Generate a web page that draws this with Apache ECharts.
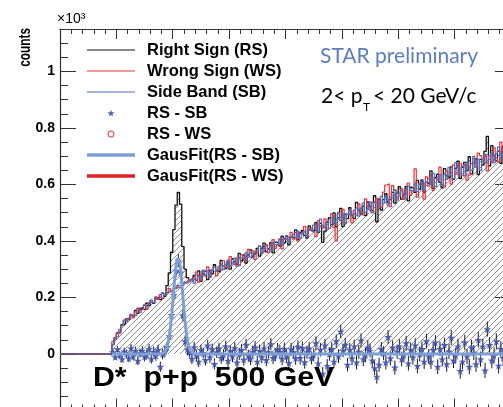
<!DOCTYPE html>
<html><head><meta charset="utf-8">
<script src="https://cdn.jsdelivr.net/npm/echarts@6/dist/echarts.min.js"></script>
<style>html,body{margin:0;padding:0;overflow:hidden;background:#fff;width:503px;height:407px}#c{width:520px;height:420px}</style>
</head><body><div id="c"></div>
<script>
// ---- axis ranges / binning ----
const xMin = 0.135, xMax = 0.175, binWidth = 0.0002;
const yMin = -0.2, yMax = 1.15;
const firstFilledBin = 0.1396;   // lower edge of first non-empty bin
// bins 0.1350 .. 0.1396 are empty
const emptyBins = [0,0,0,0,0,0,0,0,0,0,0,0,0,0,0,0,0,0,0,0,0,0,0];

// ---- histograms (x10^3 counts), bins from 0.1396 ----
const rightSign = [
0.033,0.057,0.074,0.081,0.104,0.106,0.124,0.121,0.138,0.134,
0.154,0.144,0.161,0.166,0.158,0.180,0.171,0.190,0.179,0.198,
0.201,0.192,0.215,0.204,0.242,0.287,0.360,0.440,0.527,0.572,
0.530,0.380,0.300,0.270,0.262,0.268,
0.278,0.261,0.294,0.257,0.283,0.293,0.263,0.296,0.284,0.316,
0.295,0.289,0.331,0.312,0.302,0.325,0.300,0.337,0.327,0.317,
0.356,0.330,0.351,0.322,0.351,0.368,0.345,0.355,0.374,0.346,
0.374,0.392,0.361,0.373,0.394,0.358,0.396,0.392,0.382,0.417,
0.393,0.416,0.386,0.414,0.411,0.439,0.405,0.429,0.437,0.420,
0.410,0.453,0.438,0.435,0.465,0.430,0.462,0.395,0.435,0.466,
0.482,0.458,0.499,0.451,0.482,0.515,0.451,0.495,0.479,0.518,
0.491,0.479,0.536,0.510,0.495,0.523,0.490,0.538,0.522,0.507,
0.560,0.468,0.548,0.509,0.546,0.567,0.536,0.546,0.572,0.534,
0.569,0.592,0.548,0.565,0.593,0.542,0.590,0.586,0.572,0.614,
0.583,0.613,0.573,0.607,0.601,0.648,0.586,0.625,0.636,0.607,
0.588,0.656,0.630,0.623,0.662,0.618,0.657,0.682,0.621,0.660,
0.678,0.648,0.698,0.637,0.676,0.690,0.635,0.689,0.668,0.717,
0.770,0.666,0.737,0.702,0.683,0.718,0.675,0.735,0.714,0.695,0.760];

const wrongSign = [
0.045,0.051,0.076,0.073,0.102,0.120,0.114,0.123,0.140,0.128,
0.148,0.162,0.147,0.158,0.174,0.158,0.181,0.184,0.181,0.202,
0.193,0.210,0.197,0.214,0.216,0.231,0.220,0.232,0.238,0.235,
0.234,0.252,0.250,0.252,0.264,0.257,
0.274,0.290,0.254,0.279,0.292,0.275,0.308,0.271,0.297,0.307,
0.276,0.310,0.297,0.330,0.309,0.302,0.345,0.325,0.316,0.339,
0.313,0.351,0.340,0.331,0.370,0.343,0.365,0.335,0.365,0.382,
0.358,0.368,0.387,0.359,0.387,0.405,0.374,0.386,0.407,0.372,
0.409,0.405,0.395,0.430,0.406,0.429,0.399,0.426,0.424,0.452,
0.418,0.442,0.449,0.433,0.416,0.471,0.451,0.445,0.478,0.443,
0.475,0.496,0.447,0.400,0.495,0.471,0.512,0.463,0.495,0.507,
0.464,0.508,0.491,0.531,0.504,0.492,0.549,0.522,0.508,0.536,
0.503,0.551,0.534,0.520,0.573,0.598,0.602,0.521,0.596,0.580,
0.549,0.559,0.584,0.547,0.582,0.605,0.561,0.577,0.655,0.555,
0.603,0.599,0.548,0.627,0.594,0.630,0.579,0.621,0.614,0.661,
0.599,0.590,0.648,0.620,0.601,0.669,0.643,0.635,0.675,0.631,
0.670,0.615,0.633,0.673,0.691,0.661,0.711,0.702,0.689,0.703,
0.648,0.702,0.680,0.730,0.694,0.679,0.750,0.714,0.696,0.731,0.688];

const sideBand = [
0.033,0.059,0.062,0.087,0.100,0.118,0.112,0.127,0.136,0.134,
0.136,0.156,0.155,0.158,0.172,0.168,0.181,0.190,0.181,0.194,
0.201,0.200,0.215,0.206,0.218,0.224,0.222,0.231,0.232,0.242,
0.241,0.243,0.255,0.254,0.256,0.264,
0.251,0.280,0.272,0.265,0.297,0.278,0.294,0.273,0.297,0.308,
0.293,0.301,0.316,0.298,0.317,0.332,0.310,0.319,0.339,0.310,
0.339,0.339,0.332,0.358,0.343,0.360,0.340,0.361,0.359,0.382,
0.355,0.374,0.382,0.371,0.364,0.395,0.387,0.386,0.405,0.387,
0.406,0.419,0.394,0.414,0.423,0.412,0.435,0.410,0.430,0.437,
0.414,0.439,0.432,0.456,0.441,0.432,0.477,0.456,0.446,0.469,
0.444,0.483,0.470,0.460,0.501,0.474,0.495,0.464,0.494,0.511,
0.488,0.497,0.516,0.488,0.515,0.534,0.501,0.514,0.538,0.499,
0.536,0.533,0.522,0.558,0.535,0.558,0.527,0.554,0.552,0.581,
0.544,0.569,0.578,0.562,0.551,0.594,0.579,0.576,0.602,0.575,
0.600,0.617,0.580,0.606,0.621,0.600,0.639,0.592,0.624,0.635,
0.594,0.635,0.618,0.660,0.631,0.620,0.677,0.648,0.636,0.665,
0.630,0.679,0.662,0.650,0.699,0.664,0.689,0.650,0.688,0.707,
0.676,0.689,0.710,0.676,0.709,0.732,0.691,0.707,0.734,0.683,0.732];

// ---- RS - SB points and their errors, bins from 0.1396 ----
const rsMinusSb = [
0.006,-0.011,0.017,-0.003,-0.018,0.009,0.002,-0.015,0.020,-0.008,
0.011,-0.024,0.003,0.012,-0.009,-0.002,0.018,-0.017,0.008,-0.006,
0.015,-0.045,0.000,0.009,0.024,0.063,0.138,0.209,0.295,0.330,
0.289,0.137,0.045,0.016,0.006,-0.017,
0.024,-0.006,-0.027,0.014,0.003,-0.021,0.030,-0.011,0.017,-0.035,
0.006,0.020,-0.014,-0.003,0.027,-0.024,0.011,-0.008,0.021,-0.030,
0.000,0.014,-0.020,0.033,-0.006,-0.017,0.008,0.024,-0.027,0.011,
-0.011,0.020,-0.021,0.006,0.035,-0.014,-0.003,0.017,0.008,-0.017,
0.018,-0.009,-0.032,0.017,0.006,-0.015,0.026,-0.014,0.021,-0.029,
0.006,0.020,-0.014,-0.003,0.038,-0.033,0.015,-0.070,0.030,-0.042,
0.000,0.018,-0.027,0.045,-0.008,0.080,0.012,0.033,-0.038,0.015,
-0.015,0.027,-0.030,0.008,0.048,-0.018,-0.003,0.023,0.012,-0.023,
-0.050,-0.080,-0.038,0.018,0.003,-0.030,0.060,-0.015,0.023,-0.048,
0.008,0.027,-0.018,-0.003,0.038,-0.033,0.015,-0.012,0.030,-0.042,
0.000,0.018,-0.027,0.045,-0.009,-0.027,0.014,0.041,-0.045,0.018,
-0.018,0.032,-0.036,0.009,0.058,-0.023,-0.005,0.027,-0.060,-0.027,
0.041,-0.009,-0.045,0.023,0.005,-0.036,0.050,-0.018,0.027,-0.058,
0.088,0.032,-0.023,-0.005,0.045,-0.041,0.018,-0.014,0.036,-0.050,0.000];

const rsMinusSbErr = [
0.008,0.010,0.011,0.012,0.013,0.013,0.014,0.014,0.015,0.015,
0.015,0.016,0.016,0.016,0.017,0.017,0.017,0.017,0.018,0.018,
0.018,0.018,0.019,0.019,0.019,0.020,0.021,0.022,0.023,0.023,
0.023,0.022,0.021,0.020,0.019,0.019,
0.019,0.019,0.019,0.019,0.019,0.020,0.020,0.020,0.020,0.020,
0.020,0.020,0.020,0.020,0.020,0.021,0.021,0.021,0.021,0.021,
0.021,0.021,0.021,0.021,0.021,0.022,0.022,0.022,0.022,0.022,
0.022,0.022,0.022,0.022,0.022,0.022,0.022,0.022,0.023,0.023,
0.023,0.023,0.023,0.023,0.023,0.023,0.023,0.023,0.023,0.023,
0.023,0.023,0.023,0.023,0.024,0.024,0.024,0.024,0.024,0.024,
0.024,0.024,0.024,0.024,0.024,0.024,0.024,0.024,0.024,0.024,
0.024,0.024,0.025,0.025,0.025,0.025,0.025,0.025,0.025,0.025,
0.025,0.025,0.025,0.025,0.025,0.025,0.025,0.025,0.025,0.025,
0.025,0.025,0.026,0.026,0.026,0.026,0.026,0.026,0.026,0.026,
0.026,0.026,0.026,0.026,0.026,0.026,0.026,0.026,0.026,0.026,
0.026,0.026,0.027,0.027,0.027,0.027,0.027,0.027,0.027,0.027,
0.027,0.027,0.027,0.027,0.027,0.027,0.027,0.027,0.027,0.027,
0.027,0.027,0.028,0.028,0.028,0.028,0.028,0.028,0.028,0.028,0.028];

const rsMinusWs = [];      // not visible in the reference plot
const gausFitRsWs = [];    // hidden under the RS-SB fit in the reference

// ---- Gaussian fit to RS - SB ----
const fitMass = [0.1396,0.1439,
0.1440,0.1441,0.1442,0.1443,0.1444,0.1445,0.1446,0.1447,0.1448,0.1449,
0.1450,0.1451,0.1452,0.1453,0.1454,0.1455,0.1456,0.1457,0.1458,0.1459,
0.1460,0.1461,0.1462,0.1463,0.1464,0.1465,0.1466,0.1467,0.1468,0.1469,0.1470,
0.1750];
const fitValue = [0,0,
0.001,0.002,0.004,0.007,0.013,0.024,0.040,0.064,0.096,0.137,
0.183,0.233,0.279,0.316,0.338,0.342,0.327,0.295,0.252,0.203,
0.155,0.111,0.076,0.049,0.030,0.017,0.009,0.005,0.002,0.001,0.000,
0];

// ---- colours ----
const cRS = '#111111', cWS = '#e3333b', cSB = '#4d6cbf', cStar = '#4255b3', cFitSB = '#7d9fd5', cFitWS = '#e0202a';

function histPoints(values, start) {
  const pts = values.map((v, k) => [start + k * binWidth, v]);
  pts.push([start + values.length * binWidth, values[values.length - 1]]);
  return pts;
}
const rsData = histPoints(emptyBins.concat(rightSign), xMin);
const wsData = histPoints(emptyBins.concat(wrongSign), xMin);
const sbData = histPoints(emptyBins.concat(sideBand), xMin);
const ptsData = rsMinusSb.map((v, k) => [firstFilledBin + (k + 0.5) * binWidth, v, rsMinusSbErr[k]]);
const fitData = fitMass.map((m, k) => [m, fitValue[k]]);

// hatch pattern
const pat = document.createElement('canvas');
pat.width = 6; pat.height = 6;
const g = pat.getContext('2d');
g.strokeStyle = '#858585'; g.lineWidth = 0.9;
g.beginPath();
g.moveTo(0, 6); g.lineTo(6, 0);
g.moveTo(-1, 1); g.lineTo(1, -1);
g.moveTo(5, 7); g.lineTo(7, 5);
g.stroke();

const starPath = 'path://M50,0 L61,35 L98,35 L68,57 L79,91 L50,70 L21,91 L32,57 L2,35 L39,35 Z';
const ringPath = 'path://M50,0A50,50,0,1,1,49.9,0Z M50,17A33,33,0,1,0,50.1,17Z';
const thinLine = 'path://M0,0H48V1.2H0Z';
const thickLine = 'path://M0,0H48V3.6H0Z';
const font = '"Liberation Sans", Arial, Helvetica, sans-serif';
const lato = 'Lato, "Open Sans", sans-serif';

function xAx(pos, interval, len, line) {
  return { type: 'value', position: pos, min: xMin, max: xMax, interval: interval,
    axisLine: { show: line, onZero: false, lineStyle: { color: '#333', width: 1.2 } },
    axisTick: { show: true, inside: true, length: len, lineStyle: { color: '#333', width: 1 } },
    axisLabel: { show: false }, splitLine: { show: false } };
}
function yAx(pos, interval, len, line, labels) {
  return { type: 'value', position: pos, min: yMin, max: yMax, interval: interval,
    axisLine: { show: line, onZero: false, lineStyle: { color: '#333', width: 1.2 } },
    axisTick: { show: true, inside: true, length: len, lineStyle: { color: '#333', width: 1 } },
    axisLabel: { show: labels, showMinLabel: false, showMaxLabel: false, margin: 5,
      fontFamily: font, fontWeight: 'bold', fontSize: 14, color: '#000' },
    splitLine: { show: false } };
}
function txt(x, y, text, family, size, weight, fill, extra) {
  return Object.assign({ type: 'text', x: x, y: y, z: 10,
    style: { text: text, fontFamily: family, fontSize: size, fontWeight: weight, fill: fill,
             align: 'left', verticalAlign: 'middle' } }, extra || {});
}

const chart = echarts.init(document.getElementById('c'), null, { renderer: 'canvas' });
chart.setOption({
  animation: false,
  backgroundColor: '#fff',
  grid: { left: 60, top: 29, width: 451, height: 381.5, outerBoundsMode: 'none', containLabel: false },
  xAxis: [xAx('bottom', 0.005, 12, true), xAx('bottom', 0.001, 6, false),
          xAx('top', 0.005, 10, true), xAx('top', 0.001, 5, false)],
  yAxis: [yAx('left', 0.2, 16, true, true), yAx('left', 0.05, 8, false, false),
          yAx('right', 0.2, 16, true, false), yAx('right', 0.05, 8, false, false)],
  legend: {
    orient: 'vertical', left: 87, top: 41.5, padding: 0,
    itemWidth: 48, itemHeight: 7, itemGap: 4, selectedMode: false,
    itemStyle: { borderWidth: 0 },
    textStyle: { fontFamily: font, fontWeight: 'bold', fontSize: 16.5, color: '#000', lineHeight: 17, padding: [0, 0, 0, 7] },
    data: [
      { name: 'Right Sign (RS)', icon: thinLine },
      { name: 'Wrong Sign (WS)', icon: thinLine },
      { name: 'Side Band (SB)', icon: thinLine },
      { name: 'RS - SB', icon: starPath },
      { name: 'RS - WS', icon: ringPath },
      { name: 'GausFit(RS - SB)', icon: thickLine },
      { name: 'GausFit(RS - WS)', icon: thickLine }
    ]
  },
  series: [
    { name: 'Right Sign (RS)', type: 'line', step: 'end', symbol: 'none', data: rsData, z: 2,
      color: cRS, lineStyle: { color: cRS, width: 1.3 },
      areaStyle: { color: { image: pat, repeat: 'repeat' }, opacity: 1 } },
    { name: 'Wrong Sign (WS)', type: 'line', step: 'end', symbol: 'none', data: wsData, z: 3,
      color: cWS, lineStyle: { color: cWS, width: 1.2 } },
    { name: 'Side Band (SB)', type: 'line', step: 'end', symbol: 'none', data: sbData, z: 3,
      color: cSB, lineStyle: { color: cSB, width: 1.2 } },
    { name: 'RS - SB errors', type: 'custom', z: 4, silent: true, clip: true,
      data: ptsData, encode: { x: 0, y: 1 },
      renderItem: function (params, api) {
        const x = api.value(0), y = api.value(1), e = api.value(2);
        const p1 = api.coord([x, y - e]), p2 = api.coord([x, y + e]);
        return { type: 'line', shape: { x1: p1[0], y1: p1[1], x2: p2[0], y2: p2[1] },
                 style: { stroke: '#1a1a1a', lineWidth: 1 } };
      } },
    { name: 'RS - WS', type: 'scatter', symbol: 'emptyCircle', symbolSize: 6, data: rsMinusWs, z: 5,
      color: cWS, itemStyle: { color: cWS, borderColor: cWS, borderWidth: 1 } },
    { name: 'RS - SB', type: 'scatter', symbol: starPath, symbolSize: 8, data: ptsData, z: 6,
      color: cStar, itemStyle: { color: cStar, opacity: 0.92 } },
    { name: 'GausFit(RS - WS)', type: 'line', symbol: 'none', data: gausFitRsWs, z: 7,
      color: cFitWS, lineStyle: { color: cFitWS, width: 3 } },
    { name: 'GausFit(RS - SB)', type: 'line', symbol: 'none', data: fitData, z: 8,
      color: cFitSB, lineStyle: { color: cFitSB, width: 3 } }
  ],
  graphic: [
    { type: 'text', left: 18, top: 28, rotation: Math.PI / 2, scaleX: 0.74, z: 10,
      style: { text: 'counts', fontFamily: font, fontSize: 16, fontWeight: 'bold', fill: '#000' } },
    txt(57, 19, '×10³', font, 14, 'normal', '#000'),
    txt(320, 56, 'STAR preliminary', lato, 21, 'normal', '#5a7ebf'),
    txt(321, 96, '2< p', lato, 21, 'normal', '#000'),
    txt(363, 107, 'T', lato, 12, 'normal', '#000'),
    txt(373, 96, '< 20 GeV/c', lato, 21, 'normal', '#000'),
    txt(93, 378, 'D*  p+p  500 GeV', font, 27.5, 'bold', '#000', { scaleX: 1.1 })
  ]
});
</script>
</body></html>
